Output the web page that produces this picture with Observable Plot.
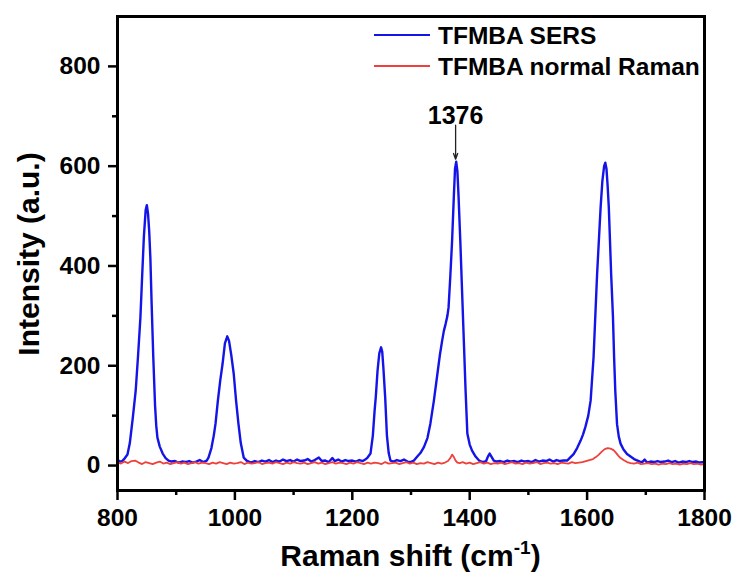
<!DOCTYPE html>
<html>
<head>
<meta charset="utf-8">
<script src="https://cdn.jsdelivr.net/npm/d3@7"></script>
<script src="https://cdn.jsdelivr.net/npm/@observablehq/plot@0.6"></script>
<style>
  html, body { margin: 0; padding: 0; background: white; }
  #chart { width: 738px; height: 577px; }
</style>
</head>
<body>
<div id="chart"></div>
<script>
// ---- data ----
const sersShift = [800,804,808,812,817,821,826,831,835,839,842,845,848,850,852,854,856,858,861,864,866,868,872,877,882,887,892,898,904,910,916,922,928,934,940,946,952,955,960,964,967,971,975,979,983,987,990,994,998,1002,1006,1010,1015,1020,1027,1034,1040,1046,1052,1058,1064,1070,1076,1082,1088,1094,1100,1106,1112,1118,1124,1130,1136,1143,1148,1154,1160,1166,1170,1176,1182,1188,1194,1200,1206,1212,1218,1222,1226,1231,1235,1238,1240,1243,1246,1249,1251,1253,1256,1259,1262,1265,1270,1276,1282,1288,1294,1299,1305,1310,1316,1322,1328,1333,1339,1345,1349,1353,1356,1359,1362,1364,1367,1370,1373,1375,1377,1379,1381,1384,1387,1390,1393,1396,1400,1404,1410,1416,1422,1428,1431,1434,1437,1441,1446,1452,1458,1464,1470,1476,1482,1488,1494,1500,1506,1512,1518,1524,1530,1536,1542,1548,1554,1560,1566,1571,1577,1583,1589,1593,1597,1602,1606,1611,1614,1617,1620,1623,1626,1629,1631,1633,1635,1637,1639,1641,1644,1646,1648,1651,1654,1657,1662,1668,1674,1680,1686,1690,1694,1698,1702,1708,1714,1720,1726,1732,1738,1744,1750,1756,1762,1768,1774,1780,1786,1792,1800];
const sersIntensity = [12,8,9,14,22,45,95,150,220,296,380,460,512,522,505,470,416,330,216,120,80,56,38,24,15,10,8,9,6,8,7,9,6,8,11,7,10,16,35,60,84,130,170,204,245,259,250,220,184,130,84,45,16,10,6,9,7,10,8,11,7,10,8,12,9,11,8,12,9,10,13,8,11,16,9,10,7,15,9,12,8,11,9,10,8,11,9,12,16,24,60,110,137,190,225,237,228,195,137,60,25,10,8,11,9,12,8,7,10,17,25,37,55,84,130,184,220,250,270,284,300,317,380,450,540,595,609,590,540,450,350,250,150,64,42,30,18,10,7,9,18,24,18,10,8,9,7,10,8,9,7,10,8,9,7,11,8,10,9,12,8,11,9,10,10,16,23,35,50,62,77,100,130,217,300,383,450,517,570,600,607,595,560,517,450,383,300,217,150,83,58,44,32,23,18,13,10,8,7,12,6,8,7,9,7,8,10,7,9,6,8,7,9,7,8,6,7];

const normalShift = [800,806,812,818,824,830,836,842,848,854,860,866,872,878,884,890,896,902,908,914,920,926,932,938,944,950,956,962,968,974,980,986,992,998,1004,1010,1016,1022,1028,1034,1040,1046,1052,1058,1064,1070,1076,1082,1088,1094,1100,1106,1112,1118,1124,1130,1136,1142,1148,1154,1160,1166,1172,1178,1184,1190,1196,1202,1208,1214,1220,1226,1232,1238,1244,1250,1256,1262,1268,1274,1280,1286,1292,1298,1304,1310,1316,1322,1328,1334,1340,1346,1352,1358,1363,1367,1370,1373,1376,1379,1383,1388,1394,1400,1406,1412,1418,1424,1430,1436,1442,1448,1454,1460,1466,1472,1478,1484,1490,1496,1502,1508,1514,1520,1526,1532,1538,1544,1550,1556,1562,1568,1574,1580,1586,1592,1598,1604,1610,1615,1620,1625,1630,1635,1640,1645,1649,1653,1657,1662,1668,1674,1680,1686,1692,1698,1704,1710,1716,1722,1728,1734,1740,1746,1752,1758,1764,1770,1776,1782,1788,1794,1800];
const normalIntensity = [6,4,8,5,9,10,6,3,7,5,3,6,8,4,6,3,5,7,4,6,3,5,7,4,6,5,3,6,4,7,5,3,6,4,5,7,3,6,4,5,7,3,5,6,4,7,5,3,6,4,7,5,4,6,3,5,7,4,6,3,5,7,4,6,5,3,6,4,7,5,3,6,4,6,5,3,7,4,5,6,3,5,7,4,6,3,5,4,7,5,3,6,4,6,9,15,22,17,10,6,5,7,4,6,3,5,7,4,6,3,5,4,6,3,5,7,4,5,3,6,4,5,7,3,5,6,4,5,3,6,5,4,7,5,6,7,9,11,13,17,22,28,33,35,34,31,26,20,15,11,7,5,4,6,3,4,5,3,4,2,4,3,5,3,4,2,4,3,5,3,4,2,3,4,3];

const xMajorTicks = [800, 1000, 1200, 1400, 1600, 1800];
const xMinorTicks = [900, 1100, 1300, 1500, 1700];
const yMajorTicks = [0, 200, 400, 600, 800];
const yMinorTicks = [100, 300, 500, 700];

const seriesNames = ["TFMBA SERS", "TFMBA normal Raman"];
const seriesColors = ["#1414e8", "#f0403c"];

const peakLabel = ["1376"];
const peakLabelShift = [1376];
const peakLabelY = [700];
const peakArrowFrom = [682];
const peakArrowTo = [614];

const xTitle = "Raman shift (cm";
const xTitleSup = "-1";
const yTitle = "Intensity (a.u.)";

// ---- build tables ----
const sers = sersShift.map((x, i) => ({x, y: sersIntensity[i]}));
const normal = normalShift.map((x, i) => ({x, y: normalIntensity[i]}));
const annot = peakLabel.map((t, i) => ({t, x: peakLabelShift[i], y: peakLabelY[i], y1: peakArrowFrom[i], y2: peakArrowTo[i]}));

const FONT = "'Liberation Sans', Arial, Helvetica, sans-serif";

const chart = Plot.plot({
  width: 738,
  height: 577,
  marginLeft: 117,
  marginRight: 34,
  marginTop: 16,
  marginBottom: 87,
  style: {fontFamily: FONT, fontWeight: "bold", fontSize: "24px", color: "black", background: "white", overflow: "visible"},
  x: {domain: [800, 1800]},
  y: {domain: [-50, 900]},
  marks: [
    Plot.line(sers, {x: "x", y: "y", stroke: seriesColors[0], strokeWidth: 2.4}),
    Plot.line(normal, {x: "x", y: "y", stroke: seriesColors[1], strokeWidth: 1.8}),
    Plot.axisX({ticks: xMinorTicks, tickSize: 5, text: null, label: null, strokeWidth: 2.5}),
    Plot.axisX({ticks: xMajorTicks, tickSize: 10, tickPadding: 8, label: null, strokeWidth: 2.5, fontSize: 24.5, tickFormat: d => String(d)}),
    Plot.axisY({ticks: yMinorTicks, tickSize: 5, text: null, label: null, strokeWidth: 2.5}),
    Plot.axisY({ticks: yMajorTicks, tickSize: 9, tickPadding: 8, label: null, strokeWidth: 2.5, fontSize: 24.5, tickFormat: d => String(d)}),
    Plot.frame({stroke: "black", strokeWidth: 3}),
    Plot.arrow(annot, {x1: "x", x2: "x", y1: "y1", y2: "y2", stroke: "#222", strokeWidth: 1.3, headLength: 7, headAngle: 40}),
    Plot.text(annot, {x: "x", y: "y", text: "t", fontSize: 25, fontWeight: "bold", fill: "black"})
  ]
});

document.getElementById("chart").appendChild(chart);

// ---- axis titles and legend ----
const svg = d3.select(chart);
const xt = svg.append("text")
  .attr("x", 410.5).attr("y", 566)
  .attr("text-anchor", "middle")
  .style("font-family", FONT).style("font-weight", "bold").style("font-size", "30px")
  .attr("fill", "black");
xt.append("tspan").text(xTitle);
xt.append("tspan").text(xTitleSup).attr("dy", -12).style("font-size", "19px");
xt.append("tspan").text(")").attr("dy", 12);

svg.append("text")
  .attr("transform", "translate(39,254) rotate(-90)")
  .attr("text-anchor", "middle")
  .style("font-family", FONT).style("font-weight", "bold").style("font-size", "30px")
  .attr("fill", "black")
  .text(yTitle);

const legendY = [35, 66];
seriesNames.forEach((name, i) => {
  svg.append("line")
    .attr("x1", 374).attr("x2", 430)
    .attr("y1", legendY[i]).attr("y2", legendY[i])
    .attr("stroke", seriesColors[i]).attr("stroke-width", 2);
  svg.append("text")
    .attr("x", 438).attr("y", legendY[i] + 9)
    .attr("text-anchor", "start")
    .style("font-family", FONT).style("font-weight", "bold").style("font-size", "24.5px")
    .attr("fill", "black")
    .text(name);
});
</script>
</body>
</html>
